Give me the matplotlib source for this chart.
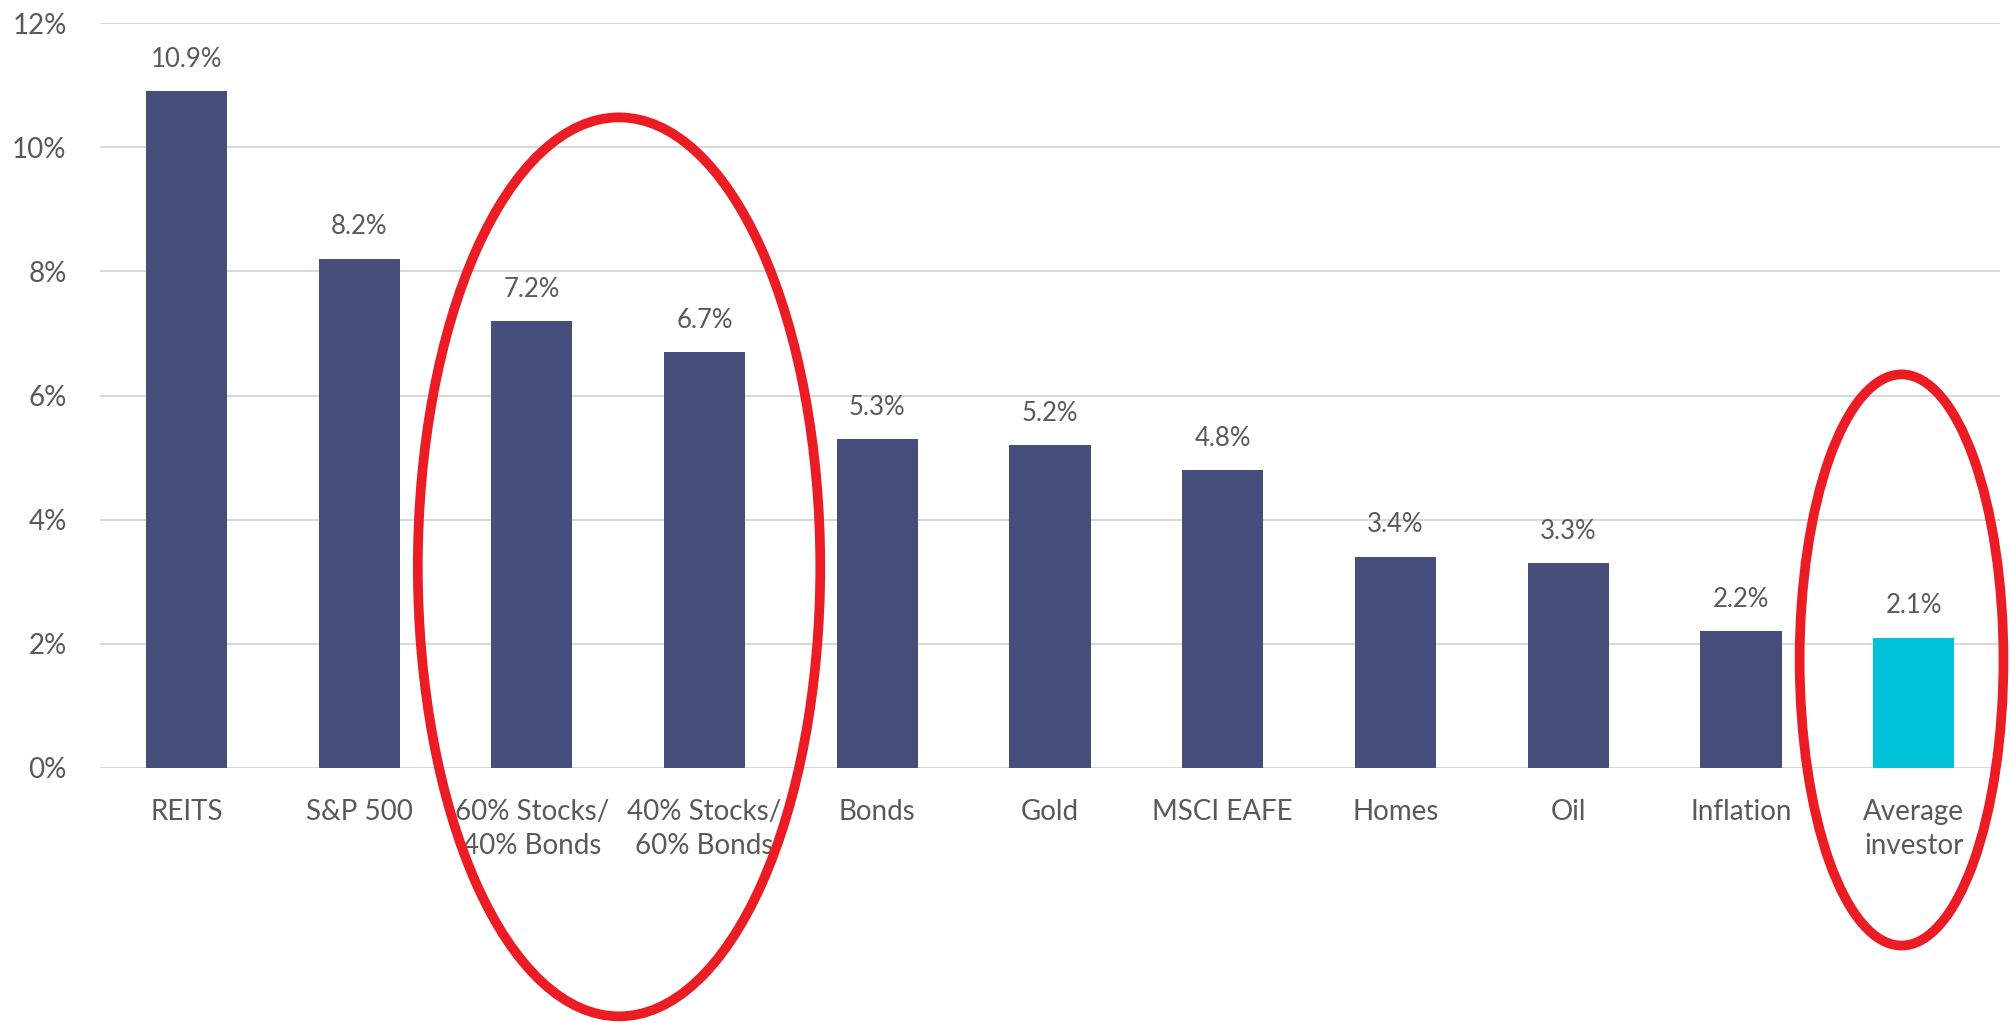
import matplotlib
matplotlib.use("Agg")
import matplotlib.pyplot as plt
from matplotlib.patches import Ellipse
import numpy as np

# ----------------------------------------------------------------
# Data: annualised returns by asset class
# ----------------------------------------------------------------
categories = ["REITS", "S&P 500", "60% Stocks/\n40% Bonds", "40% Stocks/\n60% Bonds",
              "Bonds", "Gold", "MSCI EAFE", "Homes", "Oil", "Inflation",
              "Average\ninvestor"]
returns = [10.9, 8.2, 7.2, 6.7, 5.3, 5.2, 4.8, 3.4, 3.3, 2.2, 2.1]
y_ticks = [0, 2, 4, 6, 8, 10, 12]

NAVY = "#454D7A"
CYAN = "#00C2D8"
TEXT = "#595959"
RED = "#EC1C24"

plt.rcParams["font.family"] = ["Lato", "DejaVu Sans"]

fig = plt.figure(figsize=(20.11, 10.23), dpi=100)
ax = fig.add_axes([100 / 2011, 255 / 1023, 1900 / 2011, 745 / 1023])

x = np.arange(len(categories))
colors = [NAVY] * (len(categories) - 1) + [CYAN]
bars = ax.bar(x, returns, width=0.47, color=colors, zorder=3)

# value labels above bars
for xi, val in zip(x, returns):
    ax.annotate(f"{val:.1f}%", (xi, val), xytext=(0, 14),
                textcoords="offset points", ha="center", va="bottom",
                fontsize=18.5, color=TEXT)

ax.set_xlim(-0.5, len(categories) - 0.5)
ax.set_ylim(0, 12)
ax.set_yticks(y_ticks)
ax.set_yticklabels([f"{t}%" for t in y_ticks])
ax.set_xticks(x)
ax.set_xticklabels(categories, linespacing=1.4)

ax.grid(axis="y", color="#D9D9D9", linewidth=1.5, zorder=0)
ax.set_axisbelow(True)
for s in ax.spines.values():
    s.set_visible(False)
ax.tick_params(axis="both", length=0, labelsize=20, colors=TEXT)
ax.tick_params(axis="y", pad=24)
ax.tick_params(axis="x", pad=22)

# red hand-drawn style ellipses (annotation)
ax.add_patch(Ellipse((2.505, 3.24), 2.33, 14.48, fill=False, edgecolor=RED,
                     linewidth=7, clip_on=False, zorder=5))
ax.add_patch(Ellipse((9.93, 1.74), 1.18, 9.2, fill=False, edgecolor=RED,
                     linewidth=7, clip_on=False, zorder=5))

fig.savefig("out.png", dpi=100)
plt.close(fig)
